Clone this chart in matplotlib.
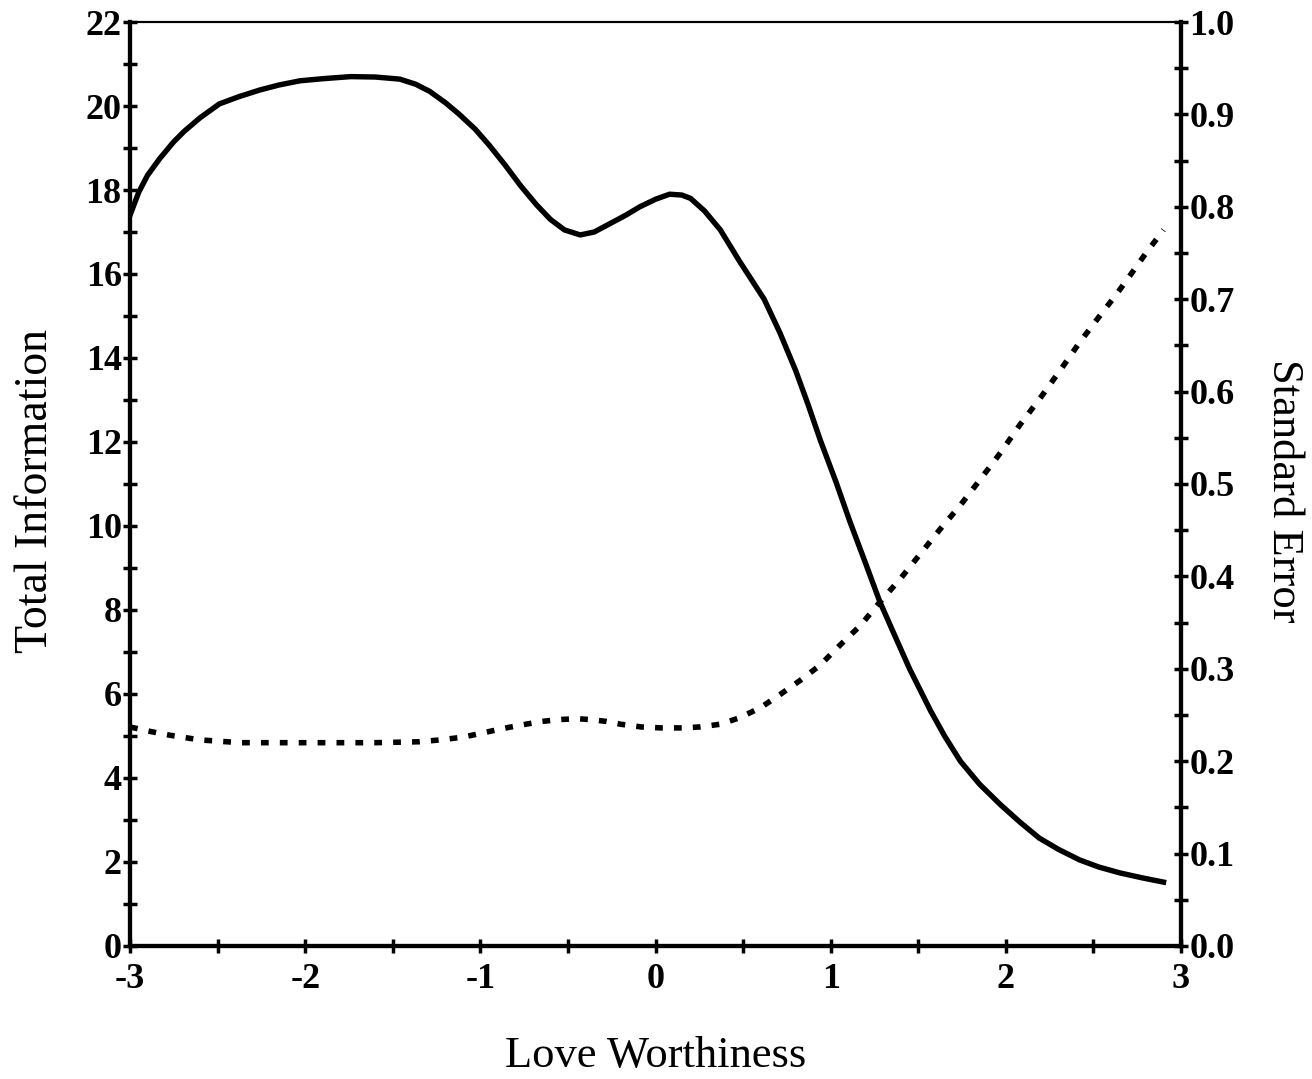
import numpy as np
import matplotlib.pyplot as plt
from matplotlib.ticker import MultipleLocator, FuncFormatter

# Total information curve (left axis)
theta_info = [-3.0, -2.95, -2.9, -2.83, -2.75, -2.69, -2.6, -2.49, -2.38, -2.26,
              -2.15, -2.03, -1.9, -1.74, -1.6, -1.46, -1.37, -1.29, -1.2, -1.12,
              -1.03, -0.95, -0.86, -0.77, -0.68, -0.6, -0.52, -0.43, -0.35, -0.26,
              -0.17, -0.09, 0.0, 0.08, 0.15, 0.2, 0.28, 0.37, 0.48, 0.62,
              0.71, 0.8, 0.87, 0.94, 1.03, 1.11, 1.2, 1.28, 1.37, 1.45,
              1.51, 1.57, 1.65, 1.74, 1.85, 1.97, 2.08, 2.19, 2.3, 2.42,
              2.53, 2.65, 2.78, 2.9]
info = [17.4, 17.95, 18.35, 18.75, 19.15, 19.4, 19.72, 20.05, 20.22, 20.38,
        20.5, 20.6, 20.65, 20.7, 20.69, 20.64, 20.52, 20.35, 20.08, 19.8,
        19.45, 19.07, 18.6, 18.1, 17.65, 17.3, 17.05, 16.93, 17.0, 17.2,
        17.4, 17.6, 17.78, 17.9, 17.88, 17.8, 17.5, 17.05, 16.3, 15.4,
        14.6, 13.7, 12.9, 12.05, 11.05, 10.1, 9.1, 8.2, 7.35, 6.6,
        6.1, 5.6, 5.0, 4.4, 3.85, 3.36, 2.95, 2.57, 2.3, 2.05,
        1.88, 1.74, 1.62, 1.52]

# Standard error curve (right axis)
theta_se = [-3.0, -2.88, -2.77, -2.6, -2.37, -2.0, -1.6, -1.35, -1.23, -1.1,
            -1.0, -0.88, -0.77, -0.65, -0.55, -0.45, -0.37, -0.28, -0.2, -0.08,
            0.03, 0.15, 0.25, 0.37, 0.48, 0.6, 0.71, 0.83, 0.94, 1.05,
            1.17, 1.28, 1.4, 1.51, 1.62, 1.74, 1.85, 1.97, 2.08, 2.2,
            2.31, 2.42, 2.54, 2.63, 2.71, 2.8, 2.9]
se = [0.237, 0.232, 0.228, 0.223, 0.22, 0.22, 0.22, 0.221, 0.223, 0.226,
      0.23, 0.235, 0.239, 0.243, 0.245, 0.246, 0.245, 0.243, 0.24, 0.237,
      0.236, 0.236, 0.237, 0.24, 0.247, 0.258, 0.272, 0.288, 0.304, 0.325,
      0.347, 0.372, 0.398, 0.424, 0.45, 0.477, 0.504, 0.534, 0.564, 0.594,
      0.623, 0.653, 0.683, 0.705, 0.726, 0.75, 0.775]

plt.rcParams['font.family'] = ['Liberation Serif', 'DejaVu Serif']

fig = plt.figure(figsize=(13.12, 10.79), dpi=100)
ax = fig.add_axes([0.0991, 0.1233, 0.8011, 0.8563])
ax2 = ax.twinx()

ax.plot(theta_info, info, color='black', lw=3.9, solid_joinstyle='round')
ax2.plot(theta_se, se, color='black', lw=4.0, linestyle=(0, (1.4, 2.0)),
         dash_capstyle='butt')

ax.set_xlim(-3, 3)
ax.set_ylim(0, 22)
ax2.set_ylim(0, 1.0)

ax.xaxis.set_major_locator(MultipleLocator(1))
ax.xaxis.set_minor_locator(MultipleLocator(0.5))
ax.xaxis.set_major_formatter(FuncFormatter(lambda v, p: '%d' % round(v)))
ax.yaxis.set_major_locator(MultipleLocator(2))
ax.yaxis.set_minor_locator(MultipleLocator(1))
ax2.yaxis.set_major_locator(MultipleLocator(0.1))
ax2.yaxis.set_minor_locator(MultipleLocator(0.05))
ax2.yaxis.set_major_formatter(FuncFormatter(lambda v, p: '%.1f' % v))

for a in (ax, ax2):
    for s in a.spines.values():
        s.set_linewidth(3)
    a.spines['top'].set_linewidth(1.5)
    a.tick_params(which='both', direction='inout', length=10, width=2.5,
                  labelsize=26)
ax.tick_params(axis='x', pad=7)
ax.tick_params(axis='y', pad=1)
ax2.tick_params(axis='y', pad=1)

for lab in ax.get_xticklabels() + ax.get_yticklabels() + ax2.get_yticklabels():
    lab.set_fontweight('bold')

fig.text(0.027, 0.545, 'Total Information', rotation=90, ha='center', va='center',
         fontsize=33)
fig.text(0.979, 0.545, 'Standard Error', rotation=270, ha='center', va='center',
         fontsize=32)
fig.text(0.4995, 0.021, 'Love Worthiness', ha='center', va='center', fontsize=32)

fig.savefig('out.png', dpi=100)
